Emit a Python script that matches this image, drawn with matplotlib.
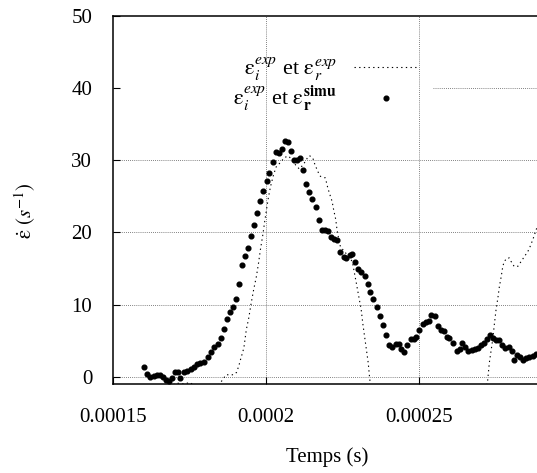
import matplotlib
matplotlib.use("Agg")
import matplotlib.pyplot as plt
import numpy as np

plt.rcParams["font.family"] = ["Liberation Serif", "DejaVu Serif"]
plt.rcParams["mathtext.fontset"] = "stix"
plt.rcParams["font.size"] = 15

# times in microseconds
exp_t = [150.0, 158.0, 164.0, 168.0, 170.8, 172.5, 174.0, 175.3, 177.0, 181.0,
         183.5, 185.0, 186.9, 188.0, 189.4, 190.3, 191.0, 191.6, 192.7, 193.5,
         194.3, 195.1, 195.9, 196.8, 197.5, 198.1, 198.9, 199.5, 200.1, 200.7,
         201.4, 202.4, 203.3, 204.6, 205.9, 207.2, 208.2, 209.5, 210.8, 212.1,
         213.4, 214.1, 215.2, 215.7, 216.8, 217.7, 219.3, 220.1, 220.6, 221.5,
         222.0, 222.7, 223.1, 223.7, 224.2, 225.5, 226.8, 228.1, 229.4, 230.2,
         231.0, 231.5, 232.1, 232.7, 233.3, 233.7, 234.0, 236.0, 245.0, 258.0,
         268.0, 271.5, 272.2, 272.8, 273.9, 274.5, 275.0, 275.6, 276.1, 276.7,
         277.2, 277.7, 278.6, 279.4, 279.9, 280.9, 282.1, 283.2, 284.3, 285.4,
         286.1, 287.0, 288.1, 288.7, 289.7, 291.0]
exp_y = [-6.0, -4.0, -2.5, -1.5, -0.85, -1.0, -0.9, -0.8, -1.6, -2.2,
         -1.5, -0.87, 0.28, 0.28, 0.28, 0.60, 1.43, 2.36, 3.98, 6.52,
         8.14, 10.22, 12.07, 13.91, 15.77, 17.61, 19.69, 21.50, 23.16, 24.83,
         26.35, 28.02, 29.13, 29.68, 30.37, 30.6, 30.2, 29.4, 28.8, 29.4,
         30.3, 30.65, 30.33, 29.64, 28.47, 27.78, 27.56, 26.17, 25.48, 24.31,
         23.16, 21.78, 20.39, 19.00, 18.07, 17.34, 16.78, 15.95, 13.00, 11.14,
         9.29, 7.45, 5.59, 3.74, 1.90, 0.04, -1.11, -4.0, -8.0, -8.0,
         -4.0, -1.5, -0.83, 1.90, 5.13, 7.45, 9.29, 10.92, 12.52, 13.91,
         15.30, 15.99, 16.46, 16.46, 15.99, 15.30, 15.30, 15.99, 16.69, 17.38,
         18.03, 19.00, 20.39, 21.08, 22.05, 23.5]

simu_t = [160.2, 161.1, 162.2, 163.3, 164.4, 165.5, 166.2, 167.3, 168.2, 169.1,
          170.1, 171.1, 172.0, 173.1, 174.2, 175.3, 176.3, 177.5, 178.5, 179.6,
          181.0, 182.0, 183.1, 184.2, 185.1, 186.1, 187.1, 188.1, 189.1, 190.0,
          191.0, 192.0, 193.1, 194.0, 194.9, 196.1, 197.0, 198.1, 199.0, 200.1,
          201.0, 202.1, 203.3, 204.2, 205.1, 206.0, 207.0, 208.1, 209.2, 210.1,
          211.1, 212.1, 213.1, 214.1, 215.1, 216.1, 217.1, 218.3, 219.1, 220.1,
          221.2, 222.2, 223.1, 224.2, 225.3, 226.2, 227.3, 228.0, 229.1, 230.0,
          231.0, 232.1, 233.1, 234.0, 235.0, 236.1, 237.2, 238.2, 239.1, 240.2,
          241.2, 242.2, 243.3, 244.1, 245.1, 246.1, 247.2, 248.1, 249.0, 250.0,
          251.1, 252.1, 253.1, 253.9, 255.1, 256.1, 257.0, 257.9, 258.9, 259.8,
          260.9, 262.1, 263.1, 264.0, 265.0, 266.0, 267.0, 268.0, 269.0, 270.2,
          271.0, 272.0, 273.0, 273.9, 275.1, 275.9, 277.0, 278.0, 279.1, 280.1,
          281.0, 282.0, 282.9, 283.9, 284.8, 285.9, 287.0, 288.0]
simu_y = [1.29, 0.42, 0.0, 0.10, 0.18, 0.28, 0.0, -0.51, -0.65, -0.10,
          0.69, 0.60, -0.10, 0.60, 0.87, 1.01, 1.35, 1.76, 1.90, 2.08,
          2.73, 3.47, 4.12, 4.54, 5.41, 6.62, 7.95, 9.02, 9.61, 10.82,
          12.80, 15.46, 16.75, 17.85, 19.56, 21.04, 22.75, 24.41, 25.80, 27.09,
          28.25, 29.82, 31.21, 31.03, 31.58, 32.73, 32.55, 31.35, 30.06, 30.06,
          30.37, 28.71, 26.73, 25.56, 24.59, 23.58, 21.73, 20.39, 20.29, 20.25,
          19.32, 19.10, 19.00, 17.34, 16.64, 16.46, 16.92, 17.02, 15.85, 14.94,
          14.47, 14.01, 12.80, 11.69, 10.72, 9.67, 8.42, 7.21, 5.73, 4.44,
          4.12, 4.54, 4.48, 3.84, 3.43, 4.44, 5.23, 5.17, 5.51, 6.52,
          7.35, 7.53, 7.67, 8.56, 8.46, 7.03, 6.52, 6.38, 5.55, 5.31,
          4.62, 3.51, 3.88, 4.67, 4.06, 3.51, 3.74, 3.79, 4.02, 4.44,
          4.72, 5.17, 5.73, 5.37, 5.13, 5.13, 4.44, 3.98, 4.12, 3.51,
          2.36, 3.05, 2.73, 2.36, 2.59, 2.68, 2.82, 3.15]

x_ticks = [0.00015, 0.0002, 0.00025]
y_ticks = [0, 10, 20, 30, 40, 50]

eps = r"\mathrm{\varepsilon}"
label_exp = rf"${eps}_i^{{exp}}$ et ${eps}_r^{{exp}}$"
label_simu = rf"${eps}_i^{{exp}}$ et ${eps}_{{\mathbf{{r}}}}^{{\mathbf{{simu}}}}$"

fig = plt.figure(figsize=(5.37, 4.73), dpi=100)
# axes run past the right edge of the picture (cropped like the original)
ax = fig.add_axes([113 / 537, 1 - 384 / 473, 429 / 537, 368 / 473])

grid_kw = dict(color="0.35", lw=0.6, ls=(0, (1, 1.5)), zorder=1)
for xv in x_ticks[1:]:
    ax.axvline(xv, **grid_kw)
for yv in y_ticks[:-1]:
    # the 40 line is hidden behind the key, as in the original
    ax.axhline(yv, xmin=0.746 if yv == 40 else 0, **grid_kw)

ax.plot(np.array(exp_t) * 1e-6, exp_y, color="black", lw=0.8,
        ls=(0, (1.2, 3)), label=label_exp, zorder=2)
ax.plot(np.array(simu_t) * 1e-6, simu_y, "o", color="black", ms=3.4,
        label=label_simu, zorder=3)

ax.set_xlim(0.00015, 0.00029)
ax.set_ylim(-1, 50)
ax.set_xticks(x_ticks)
ax.set_xticklabels(["%g" % v for v in x_ticks])
ax.set_yticks(y_ticks)
ax.tick_params(direction="in", length=5, width=0.8)
ax.tick_params(axis="x", pad=17)
ax.tick_params(axis="y", pad=15)
for sp in ax.spines.values():
    sp.set_linewidth(1.1)

ax.set_xlabel("Temps (s)", va="center")
ax.xaxis.set_label_coords(0.499, -0.20)
ax.set_ylabel(rf"$\dot{{{eps}}}\ (s^{{-1}})$", va="center")
ax.yaxis.set_label_coords(-0.205, 0.472)

ax.legend(loc="upper right", bbox_to_anchor=(0.712, 0.893), frameon=False,
          markerfirst=False, handlelength=2.9, handletextpad=0.75,
          labelspacing=0.05, numpoints=1, borderaxespad=0, borderpad=0,
          fontsize=16)

fig.savefig("out.png", dpi=100)
